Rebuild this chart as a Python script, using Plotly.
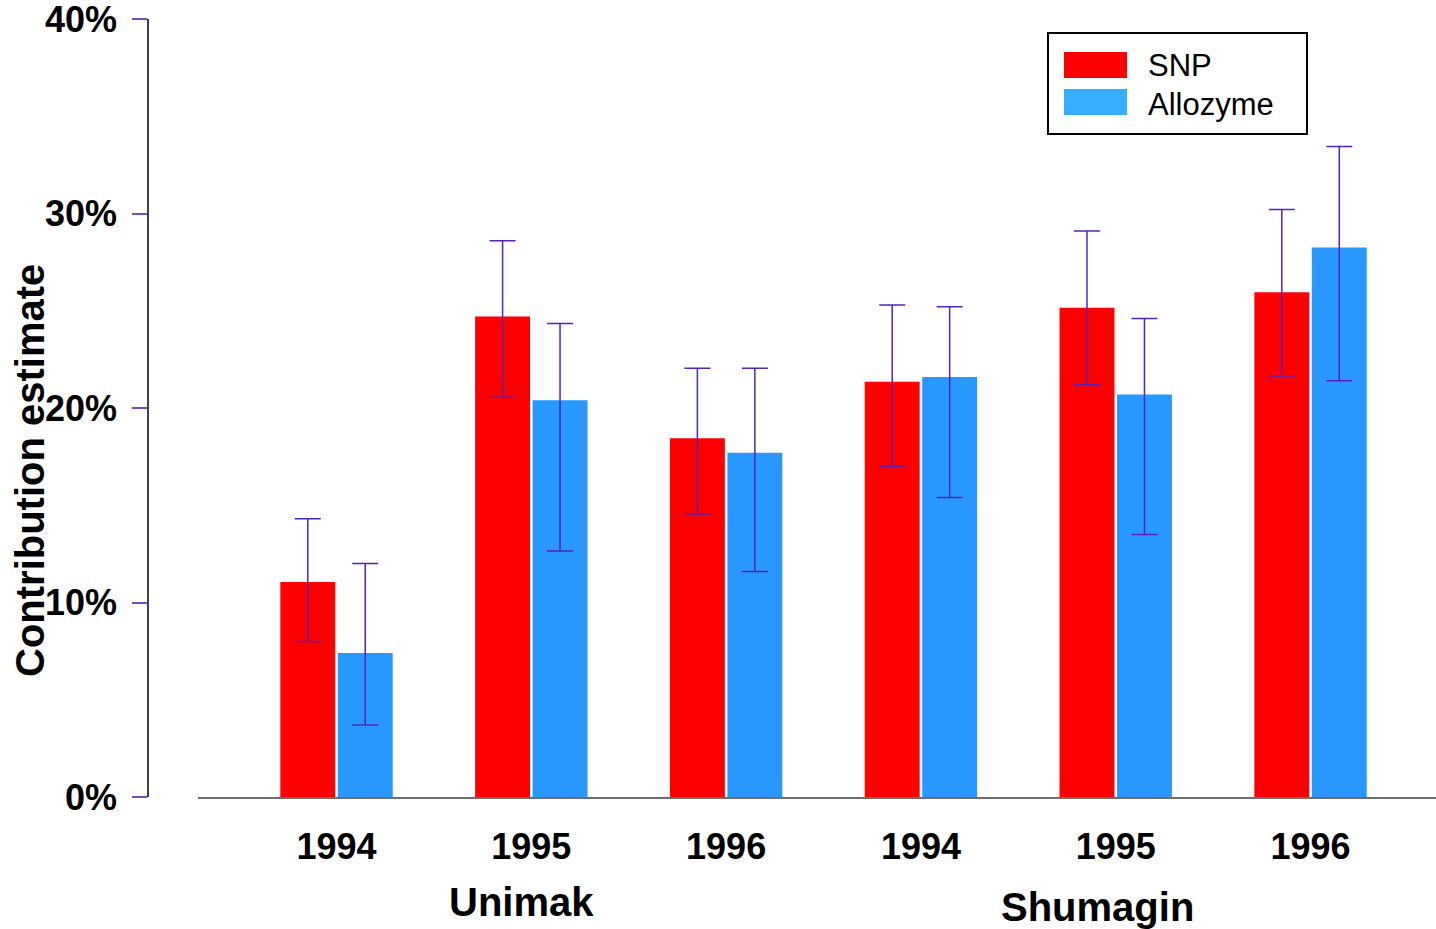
import plotly.graph_objects as go

# Contribution estimates (%) with interval bounds, by region and year
years = ["1994", "1995", "1996", "1994", "1995", "1996"]
regions = ["Unimak", "Shumagin"]

snp = [11.05, 24.7, 18.45, 21.35, 25.15, 25.95]
snp_low = [8.0, 20.55, 14.55, 17.0, 21.2, 21.65]
snp_high = [14.3, 28.6, 22.05, 25.3, 29.1, 30.2]

allozyme = [7.4, 20.4, 17.7, 21.6, 20.7, 28.25]
allozyme_low = [3.7, 12.65, 11.6, 15.4, 13.5, 21.4]
allozyme_high = [12.0, 24.35, 22.05, 25.2, 24.6, 33.45]

y_ticks = [0, 10, 20, 30, 40]
y_tick_labels = ["0%", "10%", "20%", "30%", "40%"]

W, H = 1436, 929
L, R, T, B = 148, 0, 19, 132
PW, PH = W - L - R, H - T - B


def px(x):
    return (x - L) / PW


def py(y):
    return (H - B - y) / PH


FONT = "Liberation Sans, Arial, sans-serif"
RED = "#ff0000"
BLUE = "#2898ff"
BLUE_KEY = "#38acff"
ERR = "#5424b8"

pos = list(range(len(years)))
bw = 0.282
gap = 0.013


def err(vals, lo, hi):
    return dict(
        type="data",
        symmetric=False,
        array=[h - v for v, h in zip(vals, hi)],
        arrayminus=[v - l for v, l in zip(vals, lo)],
        color=ERR,
        thickness=1.5,
        width=13,
    )


fig = go.Figure()
fig.add_bar(
    name="SNP", x=pos, y=snp, width=bw, offset=-bw - gap / 2,
    marker=dict(color=RED, line=dict(width=0)),
    error_y=err(snp, snp_low, snp_high), showlegend=False,
)
fig.add_bar(
    name="Allozyme", x=pos, y=allozyme, width=bw, offset=gap / 2,
    marker=dict(color=BLUE, line=dict(width=0)),
    error_y=err(allozyme, allozyme_low, allozyme_high), showlegend=False,
)

tick_font = dict(family=FONT, size=36, color="black", weight="bold")

fig.update_layout(
    width=W, height=H,
    margin=dict(l=L, r=R, t=T, b=B, pad=0),
    paper_bgcolor="white", plot_bgcolor="white",
    barmode="overlay",
    font=dict(family=FONT, color="black"),
    xaxis=dict(
        domain=[px(198), 1],
        range=[-0.711, 5.644],
        tickmode="array", tickvals=pos, ticktext=years,
        tickfont=tick_font,
        ticks="", ticklabelstandoff=17,
        showline=True, linecolor="#6e6e6e", linewidth=1.5,
        showgrid=False, zeroline=False,
    ),
    yaxis=dict(
        anchor="free", position=0,
        range=[0, 40],
        tickmode="array", tickvals=y_ticks, ticktext=y_tick_labels,
        tickfont=tick_font, ticklabeloverflow="allow",
        ticks="outside", ticklen=15, tickwidth=1.5, tickcolor="#7050c8",
        ticklabelstandoff=8,
        showline=True, linecolor="#404048", linewidth=1.5,
        showgrid=False, zeroline=False,
    ),
)

title_font = dict(family=FONT, size=40, color="black", weight="bold")
annotations = [
    dict(text=regions[0], x=0.95, xref="x", y=py(902), yref="paper",
         showarrow=False, font=title_font, xanchor="center", yanchor="middle"),
    dict(text=regions[1], x=3.906, xref="x", y=py(907), yref="paper",
         showarrow=False, font=title_font, xanchor="center", yanchor="middle"),
    dict(text="Contribution estimate", x=px(30), xref="paper", y=py(471), yref="paper",
         textangle=-90, showarrow=False, font=title_font,
         xanchor="center", yanchor="middle"),
]

# Key: framed box with colour swatches
key_font = dict(family=FONT, size=31, color="black")
shapes = [
    dict(type="rect", xref="paper", yref="paper",
         x0=px(1048), x1=px(1307), y0=py(134), y1=py(33),
         line=dict(color="black", width=2), fillcolor="white"),
    dict(type="rect", xref="paper", yref="paper",
         x0=px(1064), x1=px(1127), y0=py(78), y1=py(52),
         line=dict(width=0), fillcolor=RED),
    dict(type="rect", xref="paper", yref="paper",
         x0=px(1064), x1=px(1127), y0=py(115), y1=py(89),
         line=dict(width=0), fillcolor=BLUE_KEY),
]
annotations += [
    dict(text="SNP", x=px(1146), xref="paper", y=py(66), yref="paper",
         showarrow=False, font=key_font, xanchor="left", yanchor="middle"),
    dict(text="Allozyme", x=px(1146), xref="paper", y=py(104), yref="paper",
         showarrow=False, font=key_font, xanchor="left", yanchor="middle"),
]

fig.update_layout(annotations=annotations, shapes=shapes)

fig.write_html("out.html")
